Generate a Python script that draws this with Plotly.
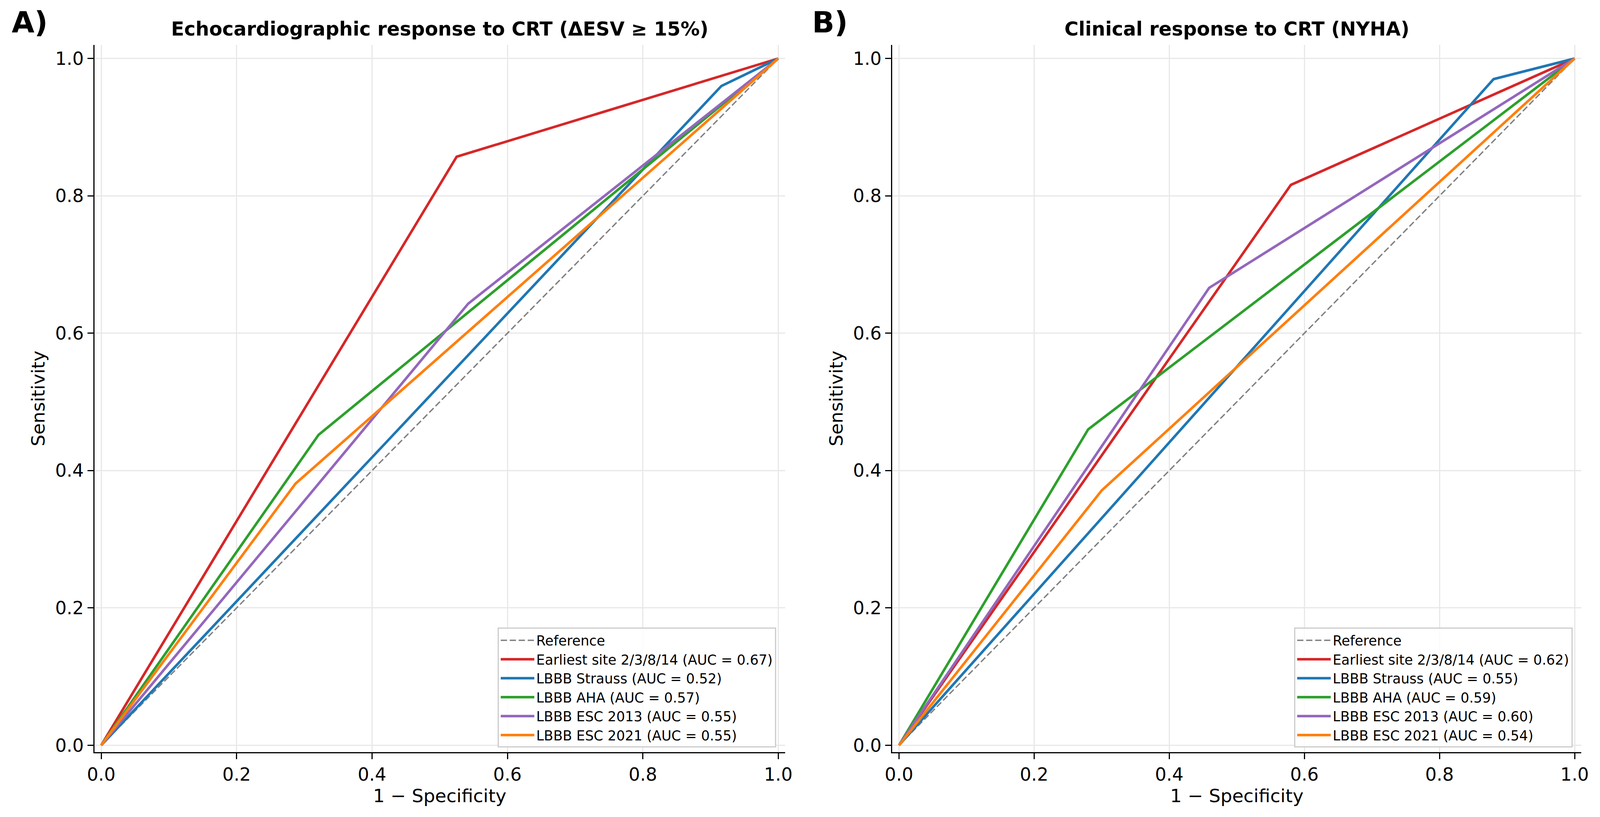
import plotly.graph_objects as go

# ---------------- data ----------------
ref_x = [0.0, 1.0]
ref_y = [0.0, 1.0]

names_a = [
    "Earliest site 2/3/8/14 (AUC = 0.67)",
    "LBBB Strauss (AUC = 0.52)",
    "LBBB AHA (AUC = 0.57)",
    "LBBB ESC 2013 (AUC = 0.55)",
    "LBBB ESC 2021 (AUC = 0.55)",
]
names_b = [
    "Earliest site 2/3/8/14 (AUC = 0.62)",
    "LBBB Strauss (AUC = 0.55)",
    "LBBB AHA (AUC = 0.59)",
    "LBBB ESC 2013 (AUC = 0.60)",
    "LBBB ESC 2021 (AUC = 0.54)",
]

# Panel A: Echocardiographic response (FPR, TPR)
a_earliest_fpr = [0.0, 0.525, 1.0]
a_earliest_tpr = [0.0, 0.857, 1.0]
a_strauss_fpr = [0.0, 0.916, 1.0]
a_strauss_tpr = [0.0, 0.960, 1.0]
a_aha_fpr = [0.0, 0.321, 1.0]
a_aha_tpr = [0.0, 0.452, 1.0]
a_esc13_fpr = [0.0, 0.542, 1.0]
a_esc13_tpr = [0.0, 0.643, 1.0]
a_esc21_fpr = [0.0, 0.287, 1.0]
a_esc21_tpr = [0.0, 0.381, 1.0]

# Panel B: Clinical response (NYHA)
b_earliest_fpr = [0.0, 0.580, 1.0]
b_earliest_tpr = [0.0, 0.816, 1.0]
b_strauss_fpr = [0.0, 0.880, 1.0]
b_strauss_tpr = [0.0, 0.970, 1.0]
b_aha_fpr = [0.0, 0.280, 1.0]
b_aha_tpr = [0.0, 0.460, 1.0]
b_esc13_fpr = [0.0, 0.459, 1.0]
b_esc13_tpr = [0.0, 0.666, 1.0]
b_esc21_fpr = [0.0, 0.300, 1.0]
b_esc21_tpr = [0.0, 0.371, 1.0]

tick_vals = [0.0, 0.2, 0.4, 0.6, 0.8, 1.0]
tick_text = ["0.0", "0.2", "0.4", "0.6", "0.8", "1.0"]

colors = ["#d62728", "#1f77b4", "#2ca02c", "#9467bd", "#ff7f0e"]

title_a = "Echocardiographic response to CRT (ΔESV ≥ 15%)"
title_b = "Clinical response to CRT (NYHA)"

# ---------------- figure ----------------
W, H = 4161, 2091
FONT = "DejaVu Sans"
LW = 6.5
fig = go.Figure()

curves_a = [
    (a_earliest_fpr, a_earliest_tpr),
    (a_strauss_fpr, a_strauss_tpr),
    (a_aha_fpr, a_aha_tpr),
    (a_esc13_fpr, a_esc13_tpr),
    (a_esc21_fpr, a_esc21_tpr),
]
curves_b = [
    (b_earliest_fpr, b_earliest_tpr),
    (b_strauss_fpr, b_strauss_tpr),
    (b_aha_fpr, b_aha_tpr),
    (b_esc13_fpr, b_esc13_tpr),
    (b_esc21_fpr, b_esc21_tpr),
]

for curves, names, xa, ya, leg in [
    (curves_a, names_a, "x", "y", "legend"),
    (curves_b, names_b, "x2", "y2", "legend2"),
]:
    fig.add_trace(go.Scatter(
        x=ref_x, y=ref_y, mode="lines", name="Reference",
        line=dict(color="#808080", width=3.5, dash="16px,7px"),
        xaxis=xa, yaxis=ya, legend=leg,
    ))
    for (fx, ty), nm, c in zip(curves, names, colors):
        fig.add_trace(go.Scatter(
            x=fx, y=ty, mode="lines", name=nm,
            line=dict(color=c, width=LW),
            xaxis=xa, yaxis=ya, legend=leg,
        ))

axis_common = dict(
    tickmode="array", tickvals=tick_vals, ticktext=tick_text,
    showline=True, linecolor="black", linewidth=3.3, mirror=False,
    ticks="outside", ticklen=15, tickwidth=3.3, tickcolor="black",
    showgrid=True, gridcolor="#e8e8e8", gridwidth=3.3,
    zeroline=False, automargin=False,
    tickfont=dict(family=FONT, size=46, color="black"),
)

ydom = [166 / H, 1 - 114.6 / H]
xdom_a = [245.6 / W, 2041.6 / W]
xdom_b = [2320.4 / W, 4112.6 / W]

legend_common = dict(
    xanchor="right", yanchor="bottom",
    bgcolor="rgba(255,255,255,0.8)", bordercolor="#cccccc", borderwidth=3,
    font=dict(family=FONT, size=35, color="black"), itemwidth=86,
    tracegroupgap=0,
)

fig.update_layout(
    autosize=True,
    margin=dict(l=0, r=0, t=0, b=0, pad=0),
    paper_bgcolor="white", plot_bgcolor="white",
    font=dict(family=FONT, color="black"),
    xaxis=dict(domain=xdom_a, range=[-0.01, 1.01], anchor="y",
               title=dict(text="1 − Specificity", font=dict(family=FONT, size=47), standoff=8),
               **axis_common),
    yaxis=dict(domain=ydom, range=[-0.01, 1.02], anchor="x",
               title=dict(text="Sensitivity", font=dict(family=FONT, size=47), standoff=12),
               **axis_common),
    xaxis2=dict(domain=xdom_b, range=[-0.01, 1.01], anchor="y2",
                title=dict(text="1 − Specificity", font=dict(family=FONT, size=47), standoff=8),
                **axis_common),
    yaxis2=dict(domain=ydom, range=[-0.01, 1.02], anchor="x2",
                title=dict(text="Sensitivity", font=dict(family=FONT, size=47), standoff=12),
                **axis_common),
    legend=dict(x=2018.4 / W, y=(H - 1913.4) / H, **legend_common),
    legend2=dict(x=4089.6 / W, y=(H - 1913.4) / H, **legend_common),
    showlegend=True,
)

ann = []
for title, xc in [(title_a, (xdom_a[0] + xdom_a[1]) / 2), (title_b, (xdom_b[0] + xdom_b[1]) / 2)]:
    ann.append(dict(text="<b>" + title + "</b>", x=xc, y=1 - 74.4 / H,
                    xref="paper", yref="paper", xanchor="center", yanchor="middle",
                    showarrow=False, font=dict(family=FONT, size=49, color="black")))
for lab, xl in [("A)", 28 / W), ("B)", 2110 / W)]:
    ann.append(dict(text="<b>" + lab + "</b>", x=xl, y=1 - 57 / H,
                    xref="paper", yref="paper", xanchor="left", yanchor="middle",
                    showarrow=False, font=dict(family=FONT, size=75, color="black")))
fig.update_layout(annotations=ann)

post = (
    "document.documentElement.style.margin='0px';"
    "document.documentElement.style.overflow='hidden';"
    "document.body.style.margin='0px';document.body.style.padding='0px';"
    "document.body.style.overflow='hidden';"
    "var gd=document.getElementById('{plot_id}');"
    "gd.style.width='100vw';gd.style.height='100vh';"
    "Plotly.Plots.resize(gd);"
)

fig.write_html(
    "out.html",
    default_width="100vw",
    default_height="100vh",
    config={"displayModeBar": False, "responsive": True},
    post_script=post,
)
